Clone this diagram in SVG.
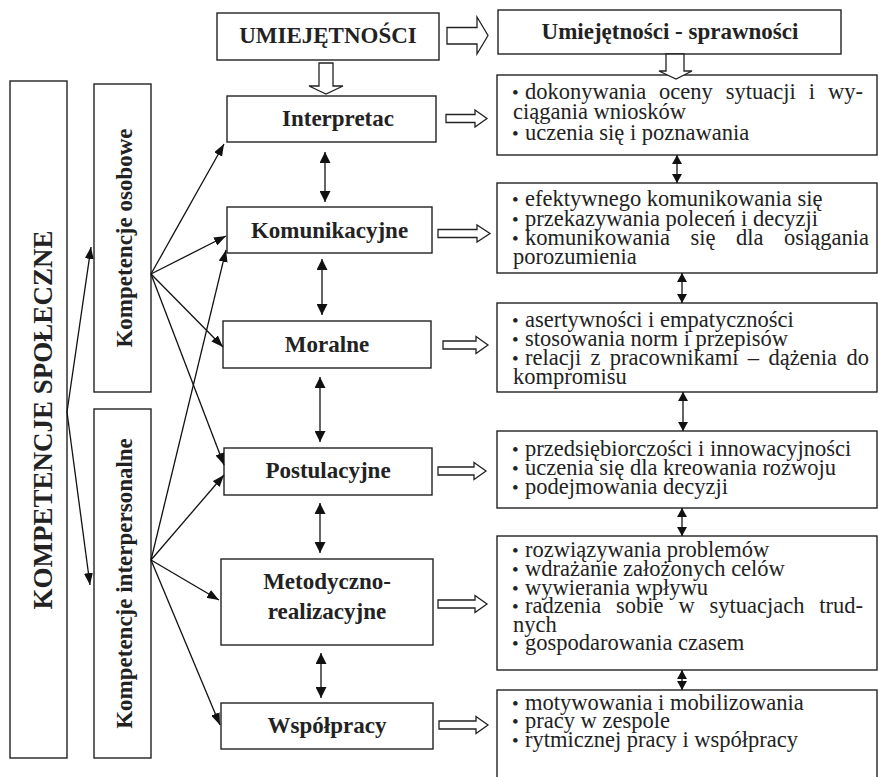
<svg xmlns="http://www.w3.org/2000/svg" width="879" height="777" viewBox="0 0 879 777">
<style>
.box{fill:#fff;stroke:#222;stroke-width:1.4}
.lbl{font-family:"Liberation Serif","Times New Roman",serif;font-weight:bold;font-size:23px;fill:#222;text-anchor:middle}
.big{font-size:27px}
.txt{font-family:"Liberation Serif","Times New Roman",serif;font-size:22.5px;fill:#222}
.blt{font-size:19px}
.ln{stroke:#111;stroke-width:1.3;fill:none;marker-end:url(#ah)}
.dbl{stroke:#111;stroke-width:1.3;fill:none;marker-start:url(#dh);marker-end:url(#dh)}
.sdbl{stroke:#111;stroke-width:1.3;fill:none;marker-start:url(#sh);marker-end:url(#sh)}
.blk{fill:#fff;stroke:#222;stroke-width:1.3}
</style>
<defs>
<marker id="ah" markerUnits="userSpaceOnUse" markerWidth="13" markerHeight="9" refX="12" refY="4.5" orient="auto"><path d="M0,0 L12,4.5 L0,9 z" fill="#111"/></marker>
<marker id="dh" markerUnits="userSpaceOnUse" markerWidth="11" markerHeight="11" refX="11" refY="5.5" orient="auto-start-reverse"><path d="M0,0 L11,5.5 L0,11 z" fill="#111"/></marker>
<marker id="sh" markerUnits="userSpaceOnUse" markerWidth="9" markerHeight="10" refX="9" refY="5" orient="auto-start-reverse"><path d="M0,0 L9,5 L0,10 z" fill="#111"/></marker>
</defs>
<rect width="879" height="777" fill="#fff"/>

<g id="kompetencje-spoleczne">
<rect class="box" x="10" y="81" width="57" height="677"/>
<text class="lbl big" transform="translate(52,420) rotate(-90)">KOMPETENCJE SPOŁECZNE</text>
</g>
<g id="kompetencje-osobowe">
<rect class="box" x="94" y="84" width="57" height="308"/>
<text class="lbl" transform="translate(131.5,238) rotate(-90)">Kompetencje osobowe</text>
</g>
<g id="kompetencje-interpersonalne">
<rect class="box" x="94" y="409" width="57" height="349"/>
<text class="lbl" transform="translate(131.5,583.5) rotate(-90)">Kompetencje interpersonalne</text>
</g>

<g id="umiejetnosci">
<rect class="box" x="217" y="13" width="222" height="47"/>
<text class="lbl" x="328" y="43">UMIEJĘTNOŚCI</text>
</g>
<g id="umiejetnosci-sprawnosci">
<rect class="box" x="498" y="10" width="343" height="44"/>
<text class="lbl" x="670" y="39">Umiejętności - sprawności</text>
</g>

<g id="interpretac">
<rect class="box" x="227" y="96" width="209" height="46"/>
<text class="lbl" x="338" y="126">Interpretac</text>
</g>
<g id="komunikacyjne">
<rect class="box" x="227" y="207" width="205" height="46"/>
<text class="lbl" x="329.5" y="238">Komunikacyjne</text>
</g>
<g id="moralne">
<rect class="box" x="223" y="321" width="208" height="47"/>
<text class="lbl" x="327" y="352">Moralne</text>
</g>
<g id="postulacyjne">
<rect class="box" x="224" y="448" width="208" height="47"/>
<text class="lbl" x="328" y="478">Postulacyjne</text>
</g>
<g id="metodyczno-realizacyjne">
<rect class="box" x="221" y="559" width="212" height="86"/>
<text class="lbl" x="327" y="589">Metodyczno-</text>
<text class="lbl" x="327" y="619">realizacyjne</text>
</g>
<g id="wspolpracy">
<rect class="box" x="221" y="703" width="212" height="46"/>
<text class="lbl" x="327" y="733">Współpracy</text>
</g>

<g id="s-interpretac">
<rect class="box" x="497" y="75" width="380" height="80"/>
<text class="txt"><tspan class="blt" x="512" y="99">•</tspan><tspan x="525" y="99">dokonywania</tspan><tspan x="659.1" y="99">oceny</tspan><tspan x="725.8" y="99">sytuacji</tspan><tspan x="808.7" y="99">i</tspan><tspan x="828" y="99">wy-</tspan></text>
<text class="txt" x="513" y="119">ciągania wniosków</text>
<text class="txt"><tspan class="blt" x="512" y="140">•</tspan><tspan x="525" y="140">uczenia się i poznawania</tspan></text>
</g>
<g id="s-komunikacyjne">
<rect class="box" x="497" y="183" width="380" height="90"/>
<text class="txt"><tspan class="blt" x="512" y="206">•</tspan><tspan x="525" y="206">efektywnego komunikowania się</tspan></text>
<text class="txt"><tspan class="blt" x="512" y="226">•</tspan><tspan x="525" y="226">przekazywania poleceń i decyzji</tspan></text>
<text class="txt"><tspan class="blt" x="512" y="245">•</tspan><tspan x="525" y="245">komunikowania</tspan><tspan x="690.5" y="245">się</tspan><tspan x="736" y="245">dla</tspan><tspan x="784" y="245">osiągania</tspan></text>
<text class="txt" x="513" y="264">porozumienia</text>
</g>
<g id="s-moralne">
<rect class="box" x="497" y="303" width="380" height="89"/>
<text class="txt"><tspan class="blt" x="512" y="327">•</tspan><tspan x="525" y="327">asertywności i empatyczności</tspan></text>
<text class="txt"><tspan class="blt" x="512" y="346">•</tspan><tspan x="525" y="346">stosowania norm i przepisów</tspan></text>
<text class="txt"><tspan class="blt" x="512" y="365">•</tspan><tspan x="525" y="365">relacji</tspan><tspan x="590.5" y="365">z</tspan><tspan x="609.8" y="365">pracownikami</tspan><tspan x="747.8" y="365">–</tspan><tspan x="768.4" y="365">dążenia</tspan><tspan x="846.4" y="365">do</tspan></text>
<text class="txt" x="513" y="384">kompromisu</text>
</g>
<g id="s-postulacyjne">
<rect class="box" x="497" y="431" width="380" height="77"/>
<text class="txt"><tspan class="blt" x="512" y="456">•</tspan><tspan x="525" y="456">przedsiębiorczości i innowacyjności</tspan></text>
<text class="txt"><tspan class="blt" x="512" y="475">•</tspan><tspan x="525" y="475">uczenia się dla kreowania rozwoju</tspan></text>
<text class="txt"><tspan class="blt" x="512" y="494">•</tspan><tspan x="525" y="494">podejmowania decyzji</tspan></text>
</g>
<g id="s-metodyczno">
<rect class="box" x="497" y="536" width="380" height="134"/>
<text class="txt"><tspan class="blt" x="512" y="557">•</tspan><tspan x="525" y="557">rozwiązywania problemów</tspan></text>
<text class="txt"><tspan class="blt" x="512" y="576">•</tspan><tspan x="525" y="576">wdrażanie założonych celów</tspan></text>
<text class="txt"><tspan class="blt" x="512" y="595">•</tspan><tspan x="525" y="595">wywierania wpływu</tspan></text>
<text class="txt"><tspan class="blt" x="512" y="613">•</tspan><tspan x="525" y="613">radzenia</tspan><tspan x="616" y="613">sobie</tspan><tspan x="678.4" y="613">w</tspan><tspan x="709.5" y="613">sytuacjach</tspan><tspan x="819.3" y="613">trud-</tspan></text>
<text class="txt" x="513" y="632">nych</text>
<text class="txt"><tspan class="blt" x="512" y="650">•</tspan><tspan x="525" y="650">gospodarowania czasem</tspan></text>
</g>
<g id="s-wspolpracy">
<rect class="box" x="497" y="690" width="380" height="100"/>
<text class="txt"><tspan class="blt" x="512" y="710">•</tspan><tspan x="525" y="710">motywowania i mobilizowania</tspan></text>
<text class="txt"><tspan class="blt" x="512" y="728">•</tspan><tspan x="525" y="728">pracy w zespole</tspan></text>
<text class="txt"><tspan class="blt" x="512" y="747">•</tspan><tspan x="525" y="747">rytmicznej pracy i współpracy</tspan></text>
</g>

<g id="connectors">
<polygon class="blk" points="447,27.5 477,27.5 477,17 488,35.5 477,54 477,44 447,44"/>
<polygon class="blk" points="319,63 333,63 333,86 343,86 326,94 309,86 319,86"/>
<polygon class="blk" points="666,54 684,54 684,71 692,71 676,79 659,71 666,71"/>
<polygon class="blk" points="446,114.5 475,114.5 475,110 487,118.5 475,127 475,122.5 446,122.5"/>
<polygon class="blk" points="438,229.5 477,229.5 477,225 490,233.5 477,242 477,237.5 438,237.5"/>
<polygon class="blk" points="443,341 476,341 476,336.5 488,345 476,353.5 476,349 443,349"/>
<polygon class="blk" points="438,467 474,467 474,462.5 486,471 474,479.5 474,475 438,475"/>
<polygon class="blk" points="438,600 475,600 475,595.5 487,604 475,612.5 475,608 438,608"/>
<polygon class="blk" points="439,721 476,721 476,716.5 488,725 476,733.5 476,729 439,729"/>

<line class="ln" x1="67" y1="412" x2="91" y2="247"/>
<line class="ln" x1="67" y1="412" x2="90" y2="585"/>

<line class="ln" x1="151" y1="274" x2="224" y2="144"/>
<line class="ln" x1="151" y1="274" x2="226" y2="236"/>
<line class="ln" x1="151" y1="274" x2="223" y2="347"/>
<line class="ln" x1="151" y1="274" x2="224" y2="465"/>

<line class="ln" x1="151" y1="560" x2="226" y2="250"/>
<line class="ln" x1="151" y1="560" x2="224" y2="475"/>
<line class="ln" x1="151" y1="560" x2="219" y2="600"/>
<line class="ln" x1="151" y1="560" x2="220" y2="725"/>

<line class="dbl" x1="325" y1="152" x2="325" y2="202"/>
<line class="dbl" x1="322" y1="259" x2="322" y2="315"/>
<line class="dbl" x1="320" y1="377" x2="320" y2="442"/>
<line class="dbl" x1="320" y1="503" x2="320" y2="553"/>
<line class="dbl" x1="321" y1="653" x2="321" y2="698"/>

<line class="sdbl" x1="677" y1="155" x2="677" y2="183"/>
<line class="sdbl" x1="682" y1="273" x2="682" y2="303"/>
<line class="sdbl" x1="683" y1="392" x2="683" y2="431"/>
<line class="sdbl" x1="682" y1="508" x2="682" y2="536"/>
<line class="sdbl" x1="682" y1="670" x2="682" y2="690"/>
</g>
</svg>
